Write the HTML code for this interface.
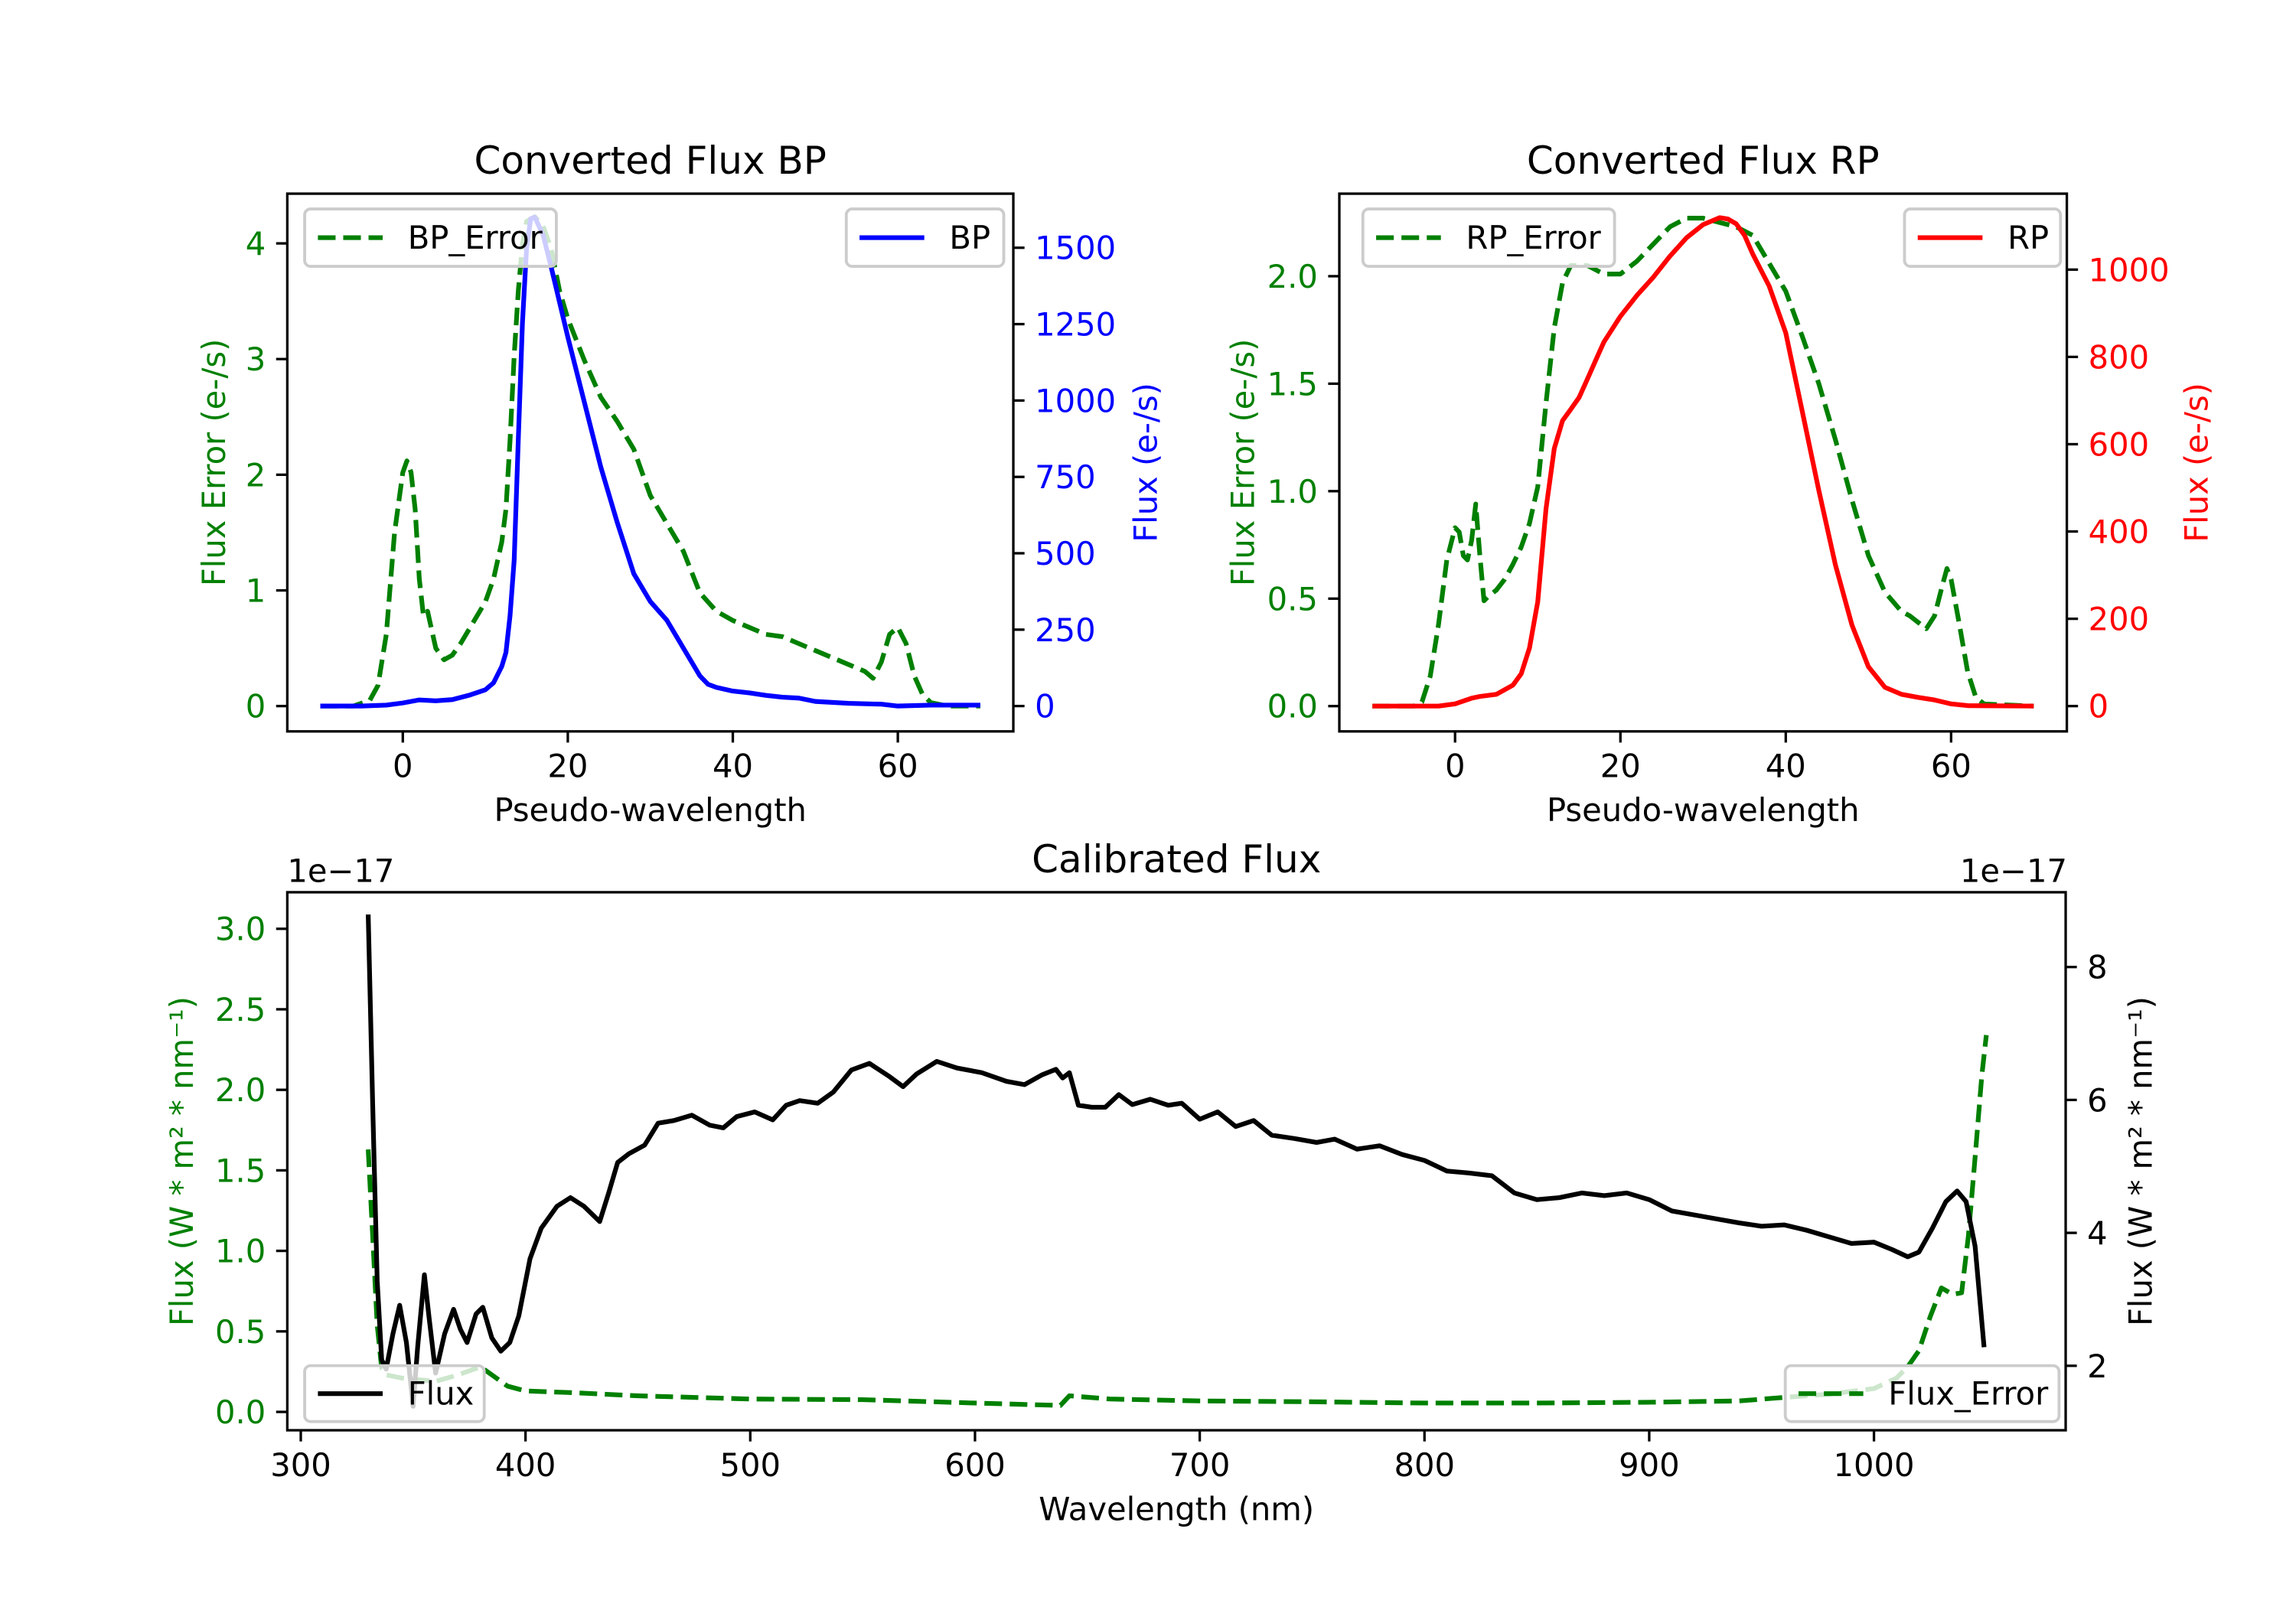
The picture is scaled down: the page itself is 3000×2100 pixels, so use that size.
<!DOCTYPE html>
<html><head><meta charset="utf-8"><title>Converted and Calibrated Flux</title>
<style>
html,body{margin:0;padding:0;background:#fff;}
svg{display:block;font-family:"DejaVu Sans","Liberation Sans",sans-serif;}
</style></head>
<body>
<svg id="fig" xmlns="http://www.w3.org/2000/svg" width="3000" height="2100" viewBox="0 0 1560 1092">
<rect x="0" y="0" width="1560" height="1092" fill="#fff"/>
</svg>
<script>
// ---------- BP panel data ----------
const bpX = [-10,-5,-2,0,2,4,6,8,10,11,12,12.5,13,13.5,14,14.5,15,15.5,16,17,18,20,22,24,26,28,30,32,34,36,37,38,40,42,44,46,48,50,54,58,60,64,70];
const bpFlux = [0,0,3,10,20,17,21,35,53,76,130,175,296,478,873,1253,1496,1595,1600,1542,1435,1208,995,782,600,433,342,281,190,99,71,61,49,43,35,29,26,15,9,6,0,3,3];
const bpErrX = [-10,-6,-4,-3,-2,-1,0,0.5,1,1.5,2,2.5,3,4,5,6,7,8,9,10,11,12,12.5,13,13.5,14,14.5,15,16,17,18,19,20,22,24,26,28,30,32,34,36,38,40,42,44,46,48,50,52,54,56,57,58,59,60,61,62,63,64,66,70];
const bpErr = [0,0,0.05,0.18,0.62,1.5,2.02,2.12,2.02,1.7,1.1,0.78,0.82,0.5,0.4,0.44,0.54,0.66,0.78,0.9,1.1,1.42,1.7,2.3,3.03,3.59,3.99,4.19,4.23,4.15,3.95,3.59,3.35,2.99,2.67,2.46,2.22,1.82,1.58,1.34,0.98,0.82,0.74,0.68,0.62,0.6,0.54,0.48,0.42,0.36,0.3,0.24,0.38,0.62,0.68,0.54,0.26,0.1,0.03,0,0];
const bpXTicks = [0,20,40,60];
const bpLeftTicks = [0,1,2,3,4];
const bpRightTicks = [0,250,500,750,1000,1250,1500];
// ---------- RP panel data ----------
const rpX = [-10,-2,0,2,3,5,7,8,9,10,11,12,13,14,15,16,17,18,20,22,24,26,28,30,32,33,34,35,36,38,40,42,44,46,48,50,52,54,56,58,60,62,70];
const rpFlux = [0,0,5,18,22,27,48,74,133,239,452,590,654,680,707,749,792,834,893,941,983,1031,1073,1103,1119,1116,1105,1079,1036,962,855,675,494,324,186,90,43,27,20,14,5,1,0];
const rpErrX = [-10,-5,-4,-3,-2,-1,0,0.5,1,1.5,2,2.5,3,3.5,4,5,6,7,8,9,10,11,12,13,14,16,18,20,22,24,26,28,30,32,34,36,38,40,42,44,46,48,50,52,54,55,56,57,58,59,59.5,60,61,62,63,64,70];
const rpErr = [0,0,0.02,0.14,0.38,0.68,0.83,0.81,0.7,0.68,0.77,0.94,0.7,0.49,0.51,0.54,0.59,0.66,0.74,0.85,1.02,1.41,1.76,1.97,2.05,2.05,2.01,2.01,2.07,2.15,2.23,2.27,2.27,2.25,2.23,2.19,2.06,1.93,1.72,1.5,1.24,0.96,0.7,0.53,0.44,0.42,0.39,0.36,0.42,0.57,0.64,0.59,0.38,0.16,0.04,0.01,0];
const rpXTicks = [0,20,40,60];
const rpLeftTicks = [0,0.5,1,1.5,2];
const rpLeftLabels = ["0.0","0.5","1.0","1.5","2.0"];
const rpRightTicks = [0,200,400,600,800,1000];
// ---------- Calibrated panel data (units of 1e-17) ----------
const calX = [330,332,334,336,338,341,344,347,350,352,355,357,360,364,368,371,374,378,381,385,389,393,397,402,407,414,420,426,433,437,441,446,453,459,466,474,482,488,494,502,510,516,522,530,537,545,553,562,568,574,583,592,603,614,622,630,636,639,642,646,652,658,664,670,678,686,692,700,708,716,724,732,742,752,760,770,780,790,800,810,820,830,840,850,860,870,880,890,900,910,920,930,940,950,960,970,980,990,1000,1008,1015,1020,1026,1032,1037,1041,1045,1049];
const calFlux = [8.79,5.92,3.28,2.09,1.95,2.48,2.91,2.35,1.39,2.28,3.37,2.75,1.89,2.48,2.85,2.55,2.35,2.78,2.88,2.42,2.22,2.35,2.75,3.61,4.07,4.40,4.53,4.40,4.17,4.60,5.06,5.19,5.32,5.65,5.69,5.77,5.62,5.58,5.75,5.82,5.70,5.92,5.99,5.95,6.12,6.45,6.55,6.35,6.20,6.39,6.58,6.48,6.41,6.28,6.23,6.38,6.46,6.33,6.41,5.92,5.89,5.89,6.08,5.93,6.01,5.92,5.95,5.71,5.82,5.60,5.69,5.47,5.42,5.36,5.41,5.26,5.31,5.18,5.09,4.93,4.90,4.86,4.60,4.50,4.53,4.60,4.56,4.60,4.50,4.33,4.27,4.21,4.15,4.10,4.12,4.04,3.94,3.84,3.86,3.75,3.64,3.71,4.07,4.47,4.63,4.47,3.80,2.28];
const calErrX = [330,332,334,336,338,345,360,370,380,385,392,400,420,450,500,550,600,638,642,660,700,750,800,850,900,940,960,980,1000,1010,1015,1020,1025,1030,1035,1039,1042,1045,1048,1050];
const calErr = [1.63,1.09,0.54,0.27,0.23,0.21,0.19,0.23,0.28,0.23,0.16,0.13,0.12,0.10,0.08,0.076,0.055,0.04,0.10,0.08,0.068,0.063,0.055,0.055,0.06,0.068,0.09,0.11,0.145,0.21,0.28,0.38,0.59,0.77,0.73,0.74,1.09,1.58,2.09,2.34];
const calXTicks = [300,400,500,600,700,800,900,1000];
const calLeftTicks = [0,0.5,1,1.5,2,2.5,3];
const calLeftLabels = ["0.0","0.5","1.0","1.5","2.0","2.5","3.0"];
const calRightTicks = [2,4,6,8];

const NS = "http://www.w3.org/2000/svg";
const fig = document.getElementById('fig');
const FS = 21.67, LW = 3.2, SP = 1.7, TL = 7.6;
const GREEN = "#008000", BLUE = "#0000ff", RED = "#ff0000";
function mk(tag, attrs, parent){
  const e = document.createElementNS(NS, tag);
  for (const k in attrs) e.setAttribute(k, attrs[k]);
  (parent || fig).appendChild(e);
  return e;
}
function lin(d0,d1,r0,r1){ return v => r0 + (v-d0)/(d1-d0)*(r1-r0); }
function pathD(xs, ys, sx, sy){
  let d = "";
  for (let i=0;i<xs.length;i++) d += (i?"L":"M") + sx(xs[i]).toFixed(2) + " " + sy(ys[i]).toFixed(2);
  return d;
}
function txt(s, x, y, attrs, parent){
  const t = mk('text', Object.assign({x:x, y:y, 'font-size':FS, fill:'#000'}, attrs||{}), parent);
  t.textContent = s;
  return t;
}
function legend(box, label, color, dashed, name){
  const g = mk('g', {});
  
  
  mk('rect', {x:box[0], y:box[1], width:box[2]-box[0], height:box[3]-box[1], rx:4, fill:'#fff', 'fill-opacity':0.8, stroke:'#cccccc', 'stroke-width':2}, g);
  const cy = (box[1]+box[3])/2;
  const ln = mk('line', {x1:box[0]+9, x2:box[0]+53, y1:cy, y2:cy, stroke:color, 'stroke-width':LW}, g);
  if (dashed) ln.setAttribute('stroke-dasharray','12 5.2');
  txt(label, box[0]+70, cy+7.5, {}, g);
}
function panel(p){
  const g = mk('g', {});
  
  
  const sx = lin(p.xlim[0], p.xlim[1], p.x0, p.x1);
  const syL = lin(p.ylimL[0], p.ylimL[1], p.y1, p.y0);
  const syR = lin(p.ylimR[0], p.ylimR[1], p.y1, p.y0);
  const cid = p.name + '-clip';
  const defs = mk('defs', {}, g);
  const cp = mk('clipPath', {id:cid}, defs);
  mk('rect', {x:p.x0, y:p.y0, width:p.x1-p.x0, height:p.y1-p.y0}, cp);
  const l1 = mk('path', {d:pathD(p.lx, p.ly, sx, syL), fill:'none', stroke:GREEN, 'stroke-width':LW, 'stroke-dasharray':'12 5.2', 'clip-path':'url(#'+cid+')', 'stroke-linejoin':'round'}, g);
  
  
  legend(p.leg1, p.leg1Label, GREEN, true, p.leftSeriesName + '-legend');
  const l2 = mk('path', {d:pathD(p.rx, p.ry, sx, syR), fill:'none', stroke:p.rColor, 'stroke-width':LW, 'clip-path':'url(#'+cid+')', 'stroke-linejoin':'round'}, g);
  
  
  legend(p.leg2, p.leg2Label, p.rColor, false, p.rightSeriesName + '-legend');
  mk('rect', {x:p.x0, y:p.y0, width:p.x1-p.x0, height:p.y1-p.y0, fill:'none', stroke:'#000', 'stroke-width':SP}, g);
  p.xt.forEach(v => {
    const x = sx(v);
    mk('line', {x1:x, x2:x, y1:p.y1, y2:p.y1+TL, stroke:'#000', 'stroke-width':SP}, g);
    txt(String(v), x, p.y1+TL+7+FS*0.76, {'text-anchor':'middle'}, g);
  });
  p.ltk.forEach((v,i) => {
    const y = syL(v);
    mk('line', {x1:p.x0-TL, x2:p.x0, y1:y, y2:y, stroke:'#000', 'stroke-width':SP}, g);
    txt(p.ltl ? p.ltl[i] : String(v), p.x0-TL-7, y+FS*0.36, {'text-anchor':'end', fill:GREEN}, g);
  });
  p.rtk.forEach(v => {
    const y = syR(v);
    mk('line', {x1:p.x1, x2:p.x1+TL, y1:y, y2:y, stroke:'#000', 'stroke-width':SP}, g);
    txt(String(v), p.x1+TL+7, y+FS*0.36, {'text-anchor':'start', fill:p.rTickColor}, g);
  });
  const t = txt(p.title, (p.x0+p.x1)/2, p.y0-13.5, {'text-anchor':'middle', 'font-size':26}, g);
  
  
  const xl = txt(p.xlabel, (p.x0+p.x1)/2, p.xlabelY, {'text-anchor':'middle'}, g);
  
  
  const cyv = (p.y0+p.y1)/2;
  const yl = txt(p.ylabelL, p.ylabelLX, cyv, {'text-anchor':'middle', fill:GREEN, transform:'rotate(-90 '+p.ylabelLX+' '+cyv+')'}, g);
  
  
  const yr = txt(p.ylabelR, p.ylabelRX, cyv, {'text-anchor':'middle', fill:p.rLabelColor, transform:'rotate(-90 '+p.ylabelRX+' '+cyv+')'}, g);
  
  
  if (p.offset){
    const o1 = txt('1e\u221217', p.x0, p.y0-7, {'text-anchor':'start'}, g);
    
    
    const o2 = txt('1e\u221217', p.x1+1, p.y0-7, {'text-anchor':'end'}, g);
    
    
  }
}
panel({name:'bp-panel', x0:195.2, x1:688.5, y0:131.6, y1:497, xlim:[-14,74], ylimL:[-0.219,4.43], ylimR:[-83,1677],
  lx:bpErrX, ly:bpErr, rx:bpX, ry:bpFlux, rColor:BLUE, rTickColor:BLUE, rLabelColor:BLUE,
  leftSeriesName:'bp-error-line', rightSeriesName:'bp-flux-line',
  leg1:[207,142,378,181], leg1Label:'BP_Error', leg2:[575,142,682,181], leg2Label:'BP',
  xt:bpXTicks, ltk:bpLeftTicks, rtk:bpRightTicks, title:'Converted Flux BP', xlabel:'Pseudo-wavelength', xlabelY:558,
  ylabelL:'Flux Error (e-/s)', ylabelLX:153, ylabelR:'Flux (e-/s)', ylabelRX:786});
panel({name:'rp-panel', x0:910, x1:1404.3, y0:131.6, y1:497, xlim:[-14,74], ylimL:[-0.1176,2.384], ylimR:[-58,1174],
  lx:rpErrX, ly:rpErr, rx:rpX, ry:rpFlux, rColor:RED, rTickColor:RED, rLabelColor:RED,
  leftSeriesName:'rp-error-line', rightSeriesName:'rp-flux-line',
  leg1:[926,142,1097,181], leg1Label:'RP_Error', leg2:[1294,142,1400,181], leg2Label:'RP',
  xt:rpXTicks, ltk:rpLeftTicks, ltl:rpLeftLabels, rtk:rpRightTicks, title:'Converted Flux RP', xlabel:'Pseudo-wavelength', xlabelY:558,
  ylabelL:'Flux Error (e-/s)', ylabelLX:852, ylabelR:'Flux (e-/s)', ylabelRX:1500});
panel({name:'calibrated-panel', x0:195.2, x1:1403.5, y0:606.3, y1:971.9, xlim:[294,1085.3], ylimL:[-0.114,3.227], ylimR:[1.03,9.125],
  lx:calErrX, ly:calErr, rx:calX, ry:calFlux, rColor:'#000', rTickColor:'#000', rLabelColor:'#000',
  leftSeriesName:'calibrated-error-line', rightSeriesName:'calibrated-flux-line',
  leg1:[1213,928,1399,966], leg1Label:'Flux_Error', leg2:[207,928,329,966], leg2Label:'Flux',
  xt:calXTicks, ltk:calLeftTicks, ltl:calLeftLabels, rtk:calRightTicks, title:'Calibrated Flux', xlabel:'Wavelength (nm)', xlabelY:1033,
  ylabelL:'Flux (W * m\u00b2 * nm\u207b\u00b9)', ylabelLX:131, ylabelR:'Flux (W * m\u00b2 * nm\u207b\u00b9)', ylabelRX:1462, offset:true});
</script>
</body></html>
